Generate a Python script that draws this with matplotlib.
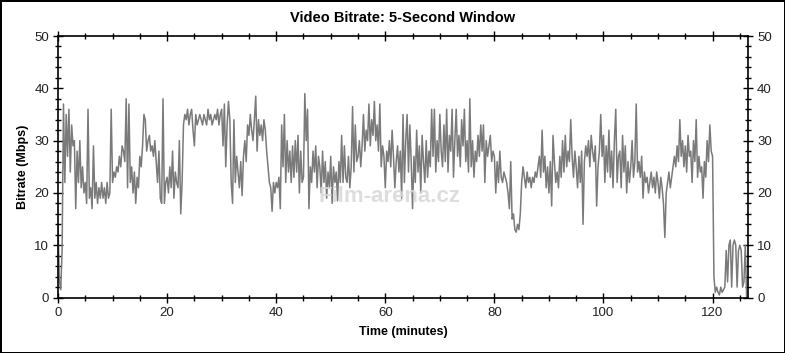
import numpy as np
import matplotlib
matplotlib.use("Agg")
import matplotlib.pyplot as plt
from matplotlib.ticker import MultipleLocator

title = "Video Bitrate: 5-Second Window"
x_label = "Time (minutes)"
y_label = "Bitrate (Mbps)"
watermark = "Film-arena.cz"

step_minutes = 0.25  # sample spacing of the bitrate series

# bitrate in Mbps, 4 samples per minute (one row = one minute)
bitrate = [
    14, 3, 1.5, 9,
    37, 22, 35, 27,
    36, 24, 33, 29,
    30, 17, 28, 22,
    30, 21, 25, 20,
    22, 18, 36, 19,
    21, 17, 29, 19,
    22, 18, 21, 19,
    22, 19, 21, 18,
    22, 19, 20, 36,
    22, 24, 23, 25,
    24, 27, 25, 29,
    28, 26, 38, 21,
    37, 22, 25, 20,
    24, 18, 23, 21,
    27, 25, 29, 35,
    34, 28, 30, 31,
    28, 29, 27, 30,
    26, 22, 28, 19,
    18, 38, 18, 22,
    23, 20, 25, 21,
    28, 19, 24, 22,
    21, 30, 16, 22,
    33, 35, 34, 36,
    33, 35, 36, 32,
    29, 35, 33, 34,
    35, 34, 33, 35,
    34, 33, 36, 34,
    35, 33, 34, 35,
    34, 36, 33, 35,
    36, 29, 37, 25,
    33, 37.5, 34, 22,
    18, 34, 22, 27,
    24, 21, 26, 19.5,
    27, 30, 26, 33,
    31, 35, 32, 30,
    34, 38.5, 28, 34,
    31, 33, 30, 34,
    32, 28, 25, 22,
    21, 16.5, 22, 20,
    22, 21, 23, 17,
    33, 25, 35, 22,
    30, 24, 28, 22,
    29, 23, 30, 24,
    31, 20, 28, 22,
    23, 39, 30, 36,
    17, 25, 22, 28,
    24, 29, 21, 27,
    25, 20, 28, 22,
    26, 19, 24, 21,
    27, 18, 25, 22,
    24, 18.5, 26, 22,
    31, 22, 29, 23,
    22, 27, 21, 25,
    36.5, 24, 33, 26,
    27, 30, 25, 29,
    35, 28, 32, 30,
    37, 29, 34, 31,
    37.5, 30, 33, 28,
    37, 25, 29, 27,
    21, 28, 26, 30,
    25, 32, 27, 21,
    26, 29, 24, 28,
    19, 35, 22, 30,
    35, 24, 33, 26,
    17, 27, 22, 32,
    24, 29, 20, 31,
    26, 22, 30, 23,
    28, 25, 36, 27,
    36, 24, 30, 26,
    35, 28, 25, 33,
    26, 36, 24, 31,
    28, 36, 23, 30,
    36, 27, 31, 25,
    34, 29, 36, 26,
    30, 24, 38, 25,
    30, 23, 28, 26,
    31, 27, 33, 28,
    33, 22, 30, 27,
    29, 31, 26, 28,
    27, 20, 26, 22,
    28, 23, 22, 24,
    23, 22, 20, 17,
    26, 15, 16, 13,
    12.5, 14, 13, 16,
    22, 25, 23, 21,
    24, 22, 23, 21,
    23, 22, 24, 23,
    25, 27, 23, 32,
    24, 27, 21, 25,
    20, 26, 17.5, 31,
    26, 22, 24, 21,
    27, 23, 30, 24,
    31, 25, 28, 26,
    34, 27, 23, 28,
    25, 21, 27, 22,
    28, 14, 26, 29,
    27, 30, 25, 31,
    28, 26, 29, 17.5,
    25, 28, 35, 27,
    31, 22, 29, 24,
    32, 23, 28, 21,
    30, 36, 22, 27,
    28, 21, 31, 24,
    29, 20, 26, 22,
    25, 30, 23, 26,
    37, 24, 26, 23,
    27, 19, 24, 22,
    23, 20, 22, 24,
    21, 23, 20, 24,
    22, 19, 23, 21,
    18, 11.5, 20, 22,
    24, 21, 23, 25,
    27, 25, 29, 26,
    34, 27, 30, 25,
    29, 24, 31, 27,
    28, 22, 30, 26,
    34, 23, 27, 24,
    25, 19, 26, 23,
    30, 26, 33, 28,
    27, 4, 1, 2,
    1, 0.5, 2, 1,
    1.5, 2, 9, 3,
    10, 11, 2, 10,
    11, 10, 2, 9,
    10, 9, 2, 3,
    10, 0,
]

x_ticks = [0, 20, 40, 60, 80, 100, 120]
y_ticks = [0, 10, 20, 30, 40, 50]
x_max = 126.5

minutes = np.arange(len(bitrate)) * step_minutes

plt.rcParams['font.family'] = ['Liberation Sans', 'DejaVu Sans']

fig = plt.figure(figsize=(7.85, 3.53), dpi=100, facecolor='white',
                 edgecolor='black', linewidth=2)
ax = fig.add_axes([0.0739, 0.157, 0.879, 0.741])

ax.plot(minutes, bitrate, color='#7a7a7a', linewidth=1.1, zorder=2)

ax.set_xlim(0, x_max)
ax.set_ylim(0, 50)
ax.set_xticks(x_ticks)
ax.set_yticks(y_ticks)
ax.xaxis.set_minor_locator(MultipleLocator(5))
ax.yaxis.set_minor_locator(MultipleLocator(2))

ax.tick_params(which='both', direction='inout', top=True, right=True,
               labelright=True, labelsize=9.5, colors='black',
               labelcolor='#222222', width=1)
ax.tick_params(which='major', length=7, pad=3)
ax.tick_params(which='minor', length=4)
for s in ax.spines.values():
    s.set_linewidth(1.2)

ax.set_title(title, fontsize=10.5, fontweight='bold', pad=10)
ax.set_xlabel(x_label, fontsize=9, fontweight='bold', labelpad=5)
ax.set_ylabel(y_label, fontsize=9, fontweight='bold', labelpad=4)

ax.text(0.48, 0.385, watermark, transform=ax.transAxes, fontsize=16,
        fontweight='bold', color='#d8d8d8', alpha=0.85, ha='center',
        va='center', zorder=3)

fig.savefig('out.png', dpi=100, facecolor=fig.get_facecolor(),
            edgecolor=fig.get_edgecolor())
